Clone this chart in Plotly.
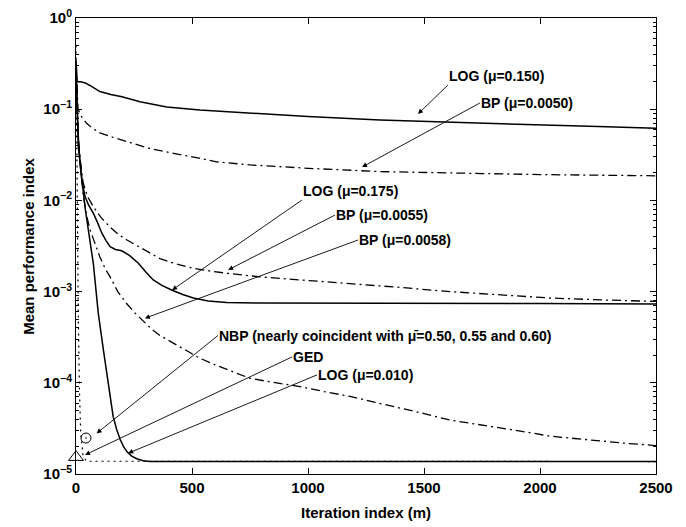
import numpy as np
import plotly.graph_objects as go

# ---------------- data ----------------
log150_x = [0, 5, 20, 30, 40, 60, 80, 103, 150, 198, 276, 391, 534, 750, 1000, 1310, 1750, 2000, 2250, 2500]
log150_y = [0.35, 0.2, 0.2, 0.197, 0.194, 0.182, 0.168, 0.156, 0.145, 0.137, 0.121, 0.106, 0.098, 0.090, 0.083, 0.076, 0.070, 0.067, 0.0645, 0.062]

bp50_x = [0, 9, 25, 46, 70, 103, 150, 198, 260, 319, 390, 463, 530, 606, 680, 750, 1000, 1310, 1750, 2000, 2500]
bp50_y = [0.3, 0.1, 0.082, 0.07, 0.062, 0.055, 0.05, 0.046, 0.041, 0.037, 0.034, 0.0316, 0.029, 0.0265, 0.0253, 0.0245,
          0.0225, 0.0207, 0.0197, 0.0192, 0.0186]

log175_x = [0, 10, 25, 39, 55, 75, 93, 111, 130, 147, 170, 197, 230, 269, 300, 333, 370, 412, 460, 506, 570, 649, 793, 1200, 1600, 2000, 2500]
log175_y = [0.3, 0.04, 0.0168, 0.011, 0.0088, 0.0072, 0.0057, 0.0044, 0.0036, 0.0031, 0.0029, 0.0028, 0.0025, 0.00205,
            0.00165, 0.00134, 0.00117, 0.00104, 0.00093, 0.00085, 0.00079, 0.00076, 0.00075, 0.00075, 0.00074, 0.00074, 0.00073]

bp55_x = [0, 10, 31, 50, 75, 110, 147, 180, 218, 290, 362, 430, 506, 580, 649, 793, 1000, 1181, 1400, 1612, 1830, 2043, 2270, 2500]
bp55_y = [0.3, 0.04, 0.0155, 0.011, 0.0085, 0.0064, 0.0051, 0.0043, 0.0037, 0.0029, 0.0023, 0.00202, 0.0018, 0.00168,
          0.00159, 0.00145, 0.00133, 0.00123, 0.00111, 0.00100, 0.00092, 0.00085, 0.00081, 0.00078]

bp58_x = [0, 10, 30, 45, 60, 80, 103, 125, 147, 180, 218, 255, 290, 325, 362, 400, 434, 480, 534, 600, 678, 750, 850, 966,
          1070, 1181, 1290, 1397, 1500, 1612, 1720, 1828, 1935, 2043, 2150, 2250, 2370, 2500]
bp58_y = [0.3, 0.05, 0.012, 0.007, 0.0048, 0.0034, 0.0024, 0.0018, 0.00145, 0.001, 0.00074, 0.00058, 0.00047, 0.00039,
          0.00033, 0.00029, 0.00026, 0.000222, 0.000186, 0.000157, 0.000132, 0.000112, 0.000101, 9.1e-5,
          8.0e-5, 7.1e-5, 6.1e-5, 5.3e-5, 4.6e-5, 3.9e-5, 3.5e-5, 3.2e-5, 2.9e-5, 2.6e-5, 2.45e-5, 2.3e-5, 2.17e-5, 2.05e-5]

log010_x = [0, 8, 17, 40, 75, 96, 118, 140, 160, 175, 190, 205, 220, 240, 262, 290, 319, 2500]
log010_y = [0.3, 0.06, 0.026, 0.008, 0.002, 5.8e-4, 2.3e-4, 9e-5, 4.3e-5, 3.1e-5, 2.4e-5, 2.0e-5, 1.75e-5, 1.57e-5,
            1.47e-5, 1.4e-5, 1.37e-5, 1.37e-5]

nbp_x = [0, 3, 6, 10, 15, 20, 30, 45, 2500]
nbp_y = [0.5, 0.05, 0.005, 5e-4, 8e-5, 3e-5, 1.6e-5, 1.38e-5, 1.37e-5]

ellipse_x = [43]
ellipse_y = [2.48e-5]
triangle_x = [0]
triangle_y = [1.53e-5]

x_ticks = [0, 500, 1000, 1500, 2000, 2500]
x_ticktext = ["0", "500", "1000", "1500", "2000", "2500"]
y_ticks = [1e-5, 1e-4, 1e-3, 1e-2, 1e-1, 1]
y_ticktext = ["10<sup>−5</sup>", "10<sup>−4</sup>", "10<sup>−3</sup>", "10<sup>−2</sup>", "10<sup>−1</sup>", "10<sup>0</sup>"]

x_title = "Iteration index (m)"
y_title = "Mean performance index"

# labels: text, arrow tail = text anchor (x, y), text y-anchor, arrow head (x, y)
labels = [
    ("LOG (μ=0.150)", (1603, 0.184), "bottom", (1474, 0.0885)),
    ("BP (μ=0.0050)", (1741, 0.117), "middle", (1233, 0.0232)),
    ("LOG (μ=0.175)", (974, 0.0101), "bottom", (414, 0.00104)),
    ("BP (μ=0.0055)", (1116, 0.0069), "middle", (656, 0.00173)),
    ("BP (μ=0.0058)", (1216, 0.00368), "middle", (297, 0.00051)),
    ("NBP (nearly coincident with μ̄=0.50, 0.55 and 0.60)", (612, 3.3e-4), "middle", (89, 2.79e-5)),
    ("GED", (931, 1.92e-4), "middle", (39, 1.62e-5)),
    ("LOG (μ=0.010)", (1039, 1.22e-4), "middle", (225, 1.69e-5)),
]

# ---------------- figure ----------------
FONT = "Liberation Sans, Arial, Helvetica, sans-serif"
DASHDOT = "9px,4px,2px,4px"
BOLD15 = dict(family=FONT, size=15, color="black", weight="bold")

fig = go.Figure()

def add_line(x, y, dash, width=1.5):
    fig.add_trace(go.Scatter(x=x, y=y, mode="lines",
                             line=dict(color="black", width=width, dash=dash),
                             showlegend=False, hoverinfo="skip"))

add_line(nbp_x, nbp_y, "2px,4px", 1.2)
add_line(log150_x, log150_y, "solid")
add_line(bp50_x, bp50_y, DASHDOT, 1.3)
add_line(log175_x, log175_y, "solid")
add_line(bp55_x, bp55_y, DASHDOT, 1.3)
add_line(bp58_x, bp58_y, DASHDOT, 1.3)
add_line(log010_x, log010_y, "solid")

fig.add_trace(go.Scatter(x=ellipse_x, y=ellipse_y, mode="markers", cliponaxis=False,
                         marker=dict(symbol="circle-open-dot", size=10, color="black", line=dict(width=1)),
                         showlegend=False, hoverinfo="skip"))
fig.add_trace(go.Scatter(x=triangle_x, y=triangle_y, mode="markers", cliponaxis=False,
                         marker=dict(symbol="triangle-up-open", size=13, color="black", line=dict(width=1)),
                         showlegend=False, hoverinfo="skip"))

annotations = []
for text, (tx, ty), yanc, (hx, hy) in labels:
    annotations.append(dict(x=hx, y=np.log10(hy), xref="x", yref="y",
                            ax=tx, ay=np.log10(ty), axref="x", ayref="y",
                            text=text, showarrow=True, arrowhead=2, arrowsize=1.1,
                            arrowwidth=0.9, arrowcolor="black", standoff=0, startstandoff=0,
                            xanchor="left", yanchor=yanc, borderpad=0,
                            font=dict(family=FONT, size=14, color="black", weight="bold")))

# axis titles
annotations.append(dict(text=x_title, xref="paper", yref="paper", x=0.5, y=-0.0855,
                        xanchor="center", yanchor="middle", showarrow=False, font=BOLD15))
annotations.append(dict(text=y_title, xref="paper", yref="paper", x=-0.083, y=0.5,
                        xanchor="center", yanchor="middle", showarrow=False, textangle=-90, font=BOLD15))

minor_y = [m * 10.0 ** e for e in range(-5, 0) for m in range(2, 10)]

fig.update_layout(
    width=686, height=527,
    margin=dict(l=76, r=30, t=18, b=53),
    paper_bgcolor="white", plot_bgcolor="white",
    font=BOLD15,
    annotations=annotations,
    xaxis=dict(range=[0, 2500], tickmode="array", tickvals=x_ticks, ticktext=x_ticktext,
               ticks="inside", ticklen=6, tickwidth=1, tickcolor="black",
               showline=True, linecolor="black", linewidth=1, mirror="ticks",
               showgrid=False, zeroline=False, automargin=False,
               tickfont=BOLD15),
    yaxis=dict(type="log", range=[-5, 0], tickmode="array", tickvals=y_ticks, ticktext=y_ticktext,
               ticks="inside", ticklen=6, tickwidth=1, tickcolor="black",
               minor=dict(ticks="inside", ticklen=3, tickcolor="black", tickmode="array", tickvals=minor_y, showgrid=False),
               showline=True, linecolor="black", linewidth=1, mirror="ticks",
               showgrid=False, zeroline=False, automargin=False,
               tickfont=BOLD15),
)

fig.write_html("out.html")
